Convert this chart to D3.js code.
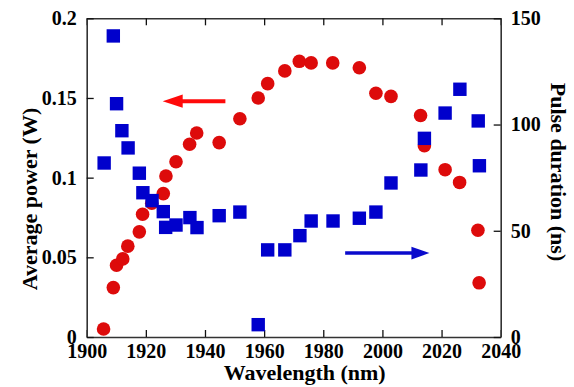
<!DOCTYPE html>
<html>
<head>
<meta charset="utf-8">
<script src="https://cdn.jsdelivr.net/npm/d3@7"></script>
<style>
  body { margin: 0; background: #fff; }
  text { font-family: "Liberation Serif", "Times New Roman", serif; font-weight: bold; }
</style>
</head>
<body>
<div id="chart"></div>
<script>
// wavelength (nm) and average power (W) - red circles, left axis
var powerWl = [1905.7, 1909.0, 1910.1, 1912.2, 1913.9, 1917.8, 1918.9, 1922.0, 1925.9, 1926.8,
  1930.2, 1934.8, 1937.2, 1944.8, 1951.8, 1958.0, 1961.2, 1967.0, 1971.9, 1975.9,
  1983.2, 1992.2, 1997.8, 2002.9, 2012.9, 2014.2, 2021.2, 2026.1, 2032.3, 2032.7];
var power = [0.005, 0.031, 0.045, 0.049, 0.057, 0.066, 0.077, 0.084, 0.090, 0.101,
  0.110, 0.121, 0.128, 0.122, 0.137, 0.150, 0.159, 0.167, 0.173, 0.172,
  0.172, 0.169, 0.153, 0.151, 0.139, 0.120, 0.105, 0.097, 0.067, 0.034];

// wavelength (nm) and pulse duration (ns) - blue squares, right axis
var pulseWl = [1905.9, 1909.0, 1910.1, 1911.9, 1914.0, 1917.8, 1919.0, 1922.1, 1925.9, 1926.7,
  1930.2, 1934.9, 1937.3, 1944.8, 1951.8, 1958.0, 1961.2, 1967.0, 1972.1, 1975.9,
  1983.3, 1992.2, 1997.8, 2002.9, 2013.0, 2014.2, 2021.2, 2026.2, 2032.4, 2032.8];
var pulse = [81.9, 141.7, 109.8, 97.1, 89.0, 77.1, 67.9, 64.2, 59.0, 51.6,
  52.7, 56.2, 51.5, 57.1, 58.8, 5.8, 41.0, 41.0, 47.7, 54.6,
  54.6, 55.9, 58.8, 72.5, 78.6, 93.5, 105.4, 116.6, 101.7, 80.6];

var xTicks = [1900, 1920, 1940, 1960, 1980, 2000, 2020, 2040];
var leftTicks = [0, 0.05, 0.1, 0.15, 0.2];
var leftLabels = ["0", "0.05", "0.1", "0.15", "0.2"];
var rightTicks = [0, 50, 100, 150];

(function() {
var width = 574, height = 387;
var margin = {left: 86.7, right: 500.7, top: 18.3, bottom: 337};

var svg = d3.select("#chart").append("svg")
  .attr("width", width)
  .attr("height", height);

var x = d3.scaleLinear().domain([1900, 2040]).range([margin.left, margin.right]);
var yL = d3.scaleLinear().domain([0, 0.2]).range([margin.bottom, margin.top]);
var yR = d3.scaleLinear().domain([0, 150]).range([margin.bottom, margin.top]);

function styleAxis(g) {
  g.selectAll("path.domain").attr("stroke", "#333").attr("stroke-width", 1.6);
  g.selectAll(".tick line").attr("stroke", "#111").attr("stroke-width", 1.3);
  g.selectAll(".tick text").attr("fill", "#000")
    .style("font-size", "20px")
    .style("font-family", "'Liberation Serif', serif")
    .style("font-weight", "bold");
}

// bottom
svg.append("g")
  .attr("transform", "translate(0," + margin.bottom + ")")
  .call(d3.axisBottom(x).tickValues(xTicks).tickFormat(d3.format("d")).tickSizeInner(-7).tickSizeOuter(0).tickPadding(7))
  .call(styleAxis);

// top (mirror ticks, no labels)
svg.append("g")
  .attr("transform", "translate(0," + margin.top + ")")
  .call(d3.axisTop(x).tickValues(xTicks).tickFormat("").tickSizeInner(-7).tickSizeOuter(0))
  .call(styleAxis);

// left
svg.append("g")
  .attr("transform", "translate(" + margin.left + ",0)")
  .call(d3.axisLeft(yL).tickValues(leftTicks).tickFormat(function(d, i) { return leftLabels[i]; })
    .tickSizeInner(-7).tickSizeOuter(0).tickPadding(10))
  .call(styleAxis);

// right
svg.append("g")
  .attr("transform", "translate(" + margin.right + ",0)")
  .call(d3.axisRight(yR).tickValues(rightTicks).tickSizeInner(-7).tickSizeOuter(0).tickPadding(10))
  .call(styleAxis);

// red circles: power
svg.append("g").selectAll("circle")
  .data(powerWl)
  .enter().append("circle")
  .attr("cx", function(d) { return x(d); })
  .attr("cy", function(d, i) { return yL(power[i]); })
  .attr("r", 6.8)
  .attr("fill", "#dd0b0b");

// blue squares: pulse duration
var s = 13.4;
svg.append("g").selectAll("rect")
  .data(pulseWl)
  .enter().append("rect")
  .attr("x", function(d) { return x(d) - s / 2; })
  .attr("y", function(d, i) { return yR(pulse[i]) - s / 2; })
  .attr("width", s)
  .attr("height", s)
  .attr("fill", "#0000cc");

// arrows
function arrow(x0, x1, y, col, lw, headLen, headHalf) {
  var dir = x1 > x0 ? 1 : -1;
  svg.append("line")
    .attr("x1", x0).attr("y1", y)
    .attr("x2", x1 - dir * headLen + dir * 1).attr("y2", y)
    .attr("stroke", col).attr("stroke-width", lw);
  svg.append("path")
    .attr("d", "M" + x1 + "," + y + "L" + (x1 - dir * headLen) + "," + (y - headHalf) +
      "L" + (x1 - dir * headLen) + "," + (y + headHalf) + "Z")
    .attr("fill", col);
}
arrow(x(1946.9), x(1925.7), yL(0.148), "#ff0a0a", 4, 20, 6.7);
arrow(x(1987.4), x(2015.9), yR(39.5), "#0a0acc", 3.5, 18, 6.3);

// axis titles
svg.append("text")
  .attr("x", (margin.left + margin.right) / 2 + 11)
  .attr("y", 380)
  .attr("text-anchor", "middle")
  .style("font-size", "22px")
  .text("Wavelength (nm)");

svg.append("text")
  .attr("transform", "translate(37,199) rotate(-90)")
  .attr("text-anchor", "middle")
  .style("font-size", "22px")
  .text("Average power (W)");

svg.append("text")
  .attr("transform", "translate(551,172) rotate(90)")
  .attr("text-anchor", "middle")
  .style("font-size", "22px")
  .text("Pulse duration (ns)");
})();
</script>
</body>
</html>
